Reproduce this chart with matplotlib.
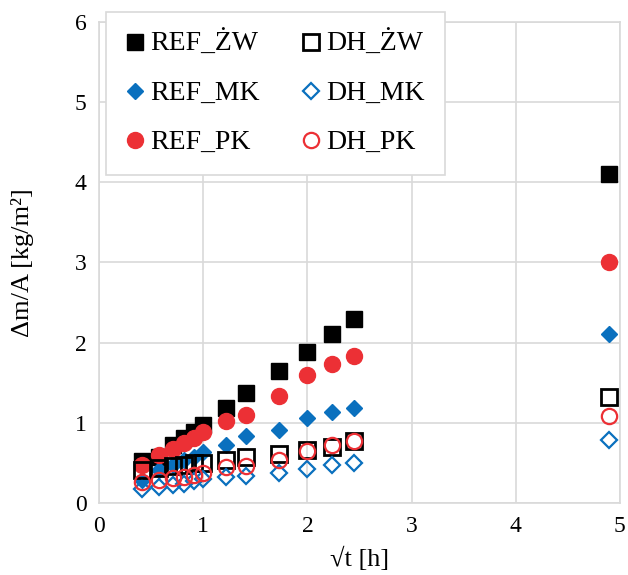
import matplotlib.pyplot as plt
import numpy as np

plt.rcParams['font.family'] = ['Liberation Serif', 'DejaVu Serif']

# sqrt of time [h]
x = [0.408, 0.577, 0.707, 0.816, 0.913, 1.0, 1.22, 1.41, 1.73, 2.0, 2.24, 2.45, 4.90]

ref_zw = [0.52, 0.58, 0.72, 0.81, 0.89, 0.97, 1.18, 1.37, 1.65, 1.89, 2.11, 2.29, 4.10]
ref_mk = [0.29, 0.41, 0.47, 0.54, 0.58, 0.64, 0.72, 0.84, 0.91, 1.06, 1.13, 1.18, 2.11]
ref_pk = [0.47, 0.60, 0.67, 0.75, 0.81, 0.89, 1.02, 1.10, 1.33, 1.60, 1.73, 1.84, 3.00]
dh_zw = [0.41, 0.44, 0.46, 0.47, 0.50, 0.50, 0.54, 0.57, 0.61, 0.66, 0.70, 0.78, 1.32]
dh_mk = [0.17, 0.20, 0.22, 0.24, 0.27, 0.30, 0.32, 0.34, 0.37, 0.42, 0.47, 0.50, 0.79]
dh_pk = [0.26, 0.29, 0.31, 0.33, 0.35, 0.38, 0.45, 0.46, 0.54, 0.65, 0.72, 0.78, 1.09]

blue = '#0A70BE'
red = '#EC3035'

fig = plt.figure(figsize=(6.28, 5.75), dpi=100)
ax = fig.add_axes([0.158, 0.125, 0.829, 0.837])

ax.plot(x, ref_zw, 's', color='black', ms=11.5, ls='none', label='REF_ŻW')
ax.plot(x, ref_mk, 'D', color=blue, ms=8.5, ls='none', label='REF_MK')
ax.plot(x, ref_pk, 'o', color=red, ms=11.5, ls='none', label='REF_PK')
ax.plot(x, dh_zw, 's', mfc='none', mec='black', mew=2, ms=11, ls='none', label='DH_ŻW')
ax.plot(x, dh_mk, 'D', mfc='none', mec=blue, mew=1.6, ms=8.5, ls='none', label='DH_MK')
ax.plot(x, dh_pk, 'o', mfc='none', mec=red, mew=1.6, ms=11, ls='none', label='DH_PK')

ax.set_xlim(0, 5)
ax.set_ylim(0, 6)
ax.set_xticks(np.arange(0, 6, 1))
ax.set_yticks(np.arange(0, 7, 1))
ax.grid(True, color='#D9D9D9', lw=1.2)
ax.set_axisbelow(True)
for s in ax.spines.values():
    s.set_color('#D9D9D9')
    s.set_linewidth(1.2)
ax.tick_params(length=0, labelsize=17, pad=9)

ax.set_xlabel('√t [h]', fontsize=19)
ax.xaxis.set_label_coords(0.5, -0.09)
ax.set_ylabel('Δm/A [kg/m²]', fontsize=19)
ax.yaxis.set_label_coords(-0.125, 0.5)

leg = ax.legend(ncol=2, loc='upper left', bbox_to_anchor=(0.013, 1.021),
                fontsize=20, frameon=True, fancybox=False, framealpha=1,
                edgecolor='#D9D9D9', handlelength=0.7, handletextpad=0.2,
                columnspacing=1.5, labelspacing=0.85, borderpad=0.7,
                borderaxespad=0)
leg.get_frame().set_linewidth(1.2)

plt.savefig('out.png')
